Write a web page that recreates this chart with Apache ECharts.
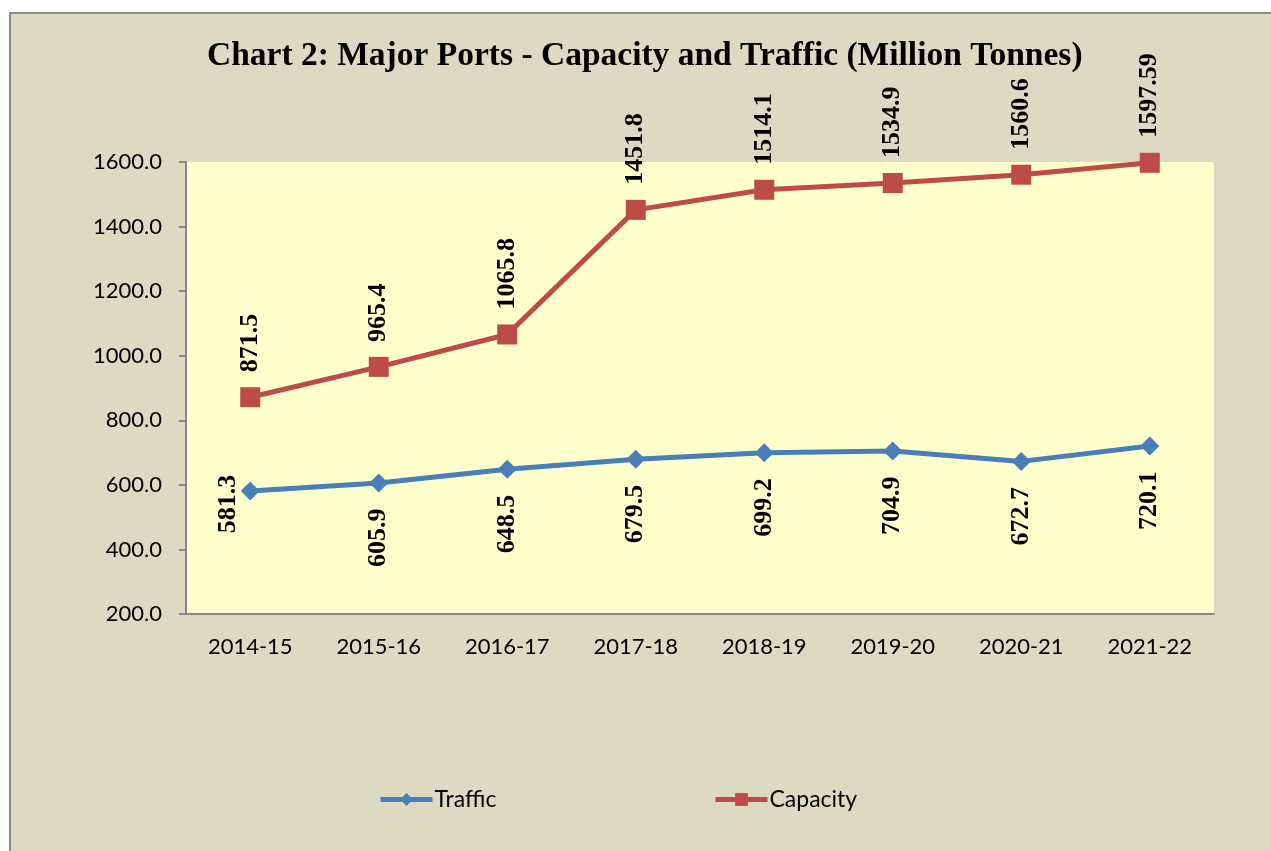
<!DOCTYPE html>
<html>
<head>
<meta charset="utf-8">
<script src="https://cdn.jsdelivr.net/npm/echarts@6/dist/echarts.min.js"></script>
<style>
  html, body { margin: 0; padding: 0; background: #fff; }
  #main { width: 1271px; height: 851px; }
</style>
</head>
<body>
<div id="main"></div>
<script>
// chart data
const years = ['2014-15', '2015-16', '2016-17', '2017-18', '2018-19', '2019-20', '2020-21', '2021-22']
const traffic = [581.3, 605.9, 648.5, 679.5, 699.2, 704.9, 672.7, 720.1]
const capacity = [871.5, 965.4, 1065.8, 1451.8, 1514.1, 1534.9, 1560.6, 1597.59]
const capacityText = ['871.5', '965.4', '1065.8', '1451.8', '1514.1', '1534.9', '1560.6', '1597.59']

const chart = echarts.init(document.getElementById('main'))

const axisFont = 'Lato'
const labelFont = '"Liberation Serif", "Times New Roman", serif'

// traffic labels sit below the point, except the first one which is on the left
let trafficData = traffic.map((v, i) => {
  if (i === 0) {
    return {
      value: v,
      label: { position: 'left', align: 'center', verticalAlign: 'bottom', distance: 4, offset: [-13, 5] }
    }
  }
  return v
})

let options = {
  backgroundColor: '#fff',
  graphic: [{
    type: 'rect',
    z: -10,
    shape: { x: 10, y: 13, width: 1300, height: 900 },
    style: { fill: '#ddd9c3', stroke: '#8c8c8c', lineWidth: 2 }
  }],
  title: {
    text: 'Chart 2: Major Ports - Capacity and Traffic (Million Tonnes)',
    left: 207,
    top: 39,
    padding: 0,
    textStyle: { fontFamily: labelFont, fontWeight: 'bold', fontSize: 33.5, color: '#000' }
  },
  legend: [{
    data: ['Traffic'],
    left: 378,
    top: 788,
    padding: 0,
    itemWidth: 52,
    itemHeight: 16,
    lineStyle: { width: 5 },
    textStyle: { fontFamily: axisFont, fontSize: 23, color: '#000', padding: [0, 0, 0, -3] }
  }, {
    data: ['Capacity'],
    left: 713,
    top: 788,
    padding: 0,
    itemWidth: 52,
    itemHeight: 16,
    lineStyle: { width: 5 },
    textStyle: { fontFamily: axisFont, fontSize: 23, color: '#000', padding: [0, 0, 0, -3] }
  }],
  grid: {
    left: 186,
    right: 57,
    top: 162,
    bottom: 237,
    show: true,
    backgroundColor: '#ffffcc',
    borderWidth: 0
  },
  xAxis: {
    type: 'category',
    data: years,
    boundaryGap: true,
    axisLine: { lineStyle: { color: '#868686', width: 2 } },
    axisTick: { length: 7, lineStyle: { color: '#868686', width: 2 } },
    axisLabel: { fontFamily: axisFont, fontSize: 22, color: '#000', margin: 22 }
  },
  yAxis: {
    type: 'value',
    min: 200,
    max: 1600,
    interval: 200,
    axisLine: { show: true, lineStyle: { color: '#868686', width: 2 } },
    axisTick: { show: true, length: 7, lineStyle: { color: '#868686', width: 2 } },
    splitLine: { show: false },
    axisLabel: {
      fontFamily: axisFont, fontSize: 22, color: '#000', margin: 24,
      formatter: v => v.toFixed(1)
    }
  },
  series: [{
    name: 'Traffic',
    type: 'line',
    data: trafficData,
    symbol: 'diamond',
    symbolSize: 19,
    color: '#4a7ebb',
    lineStyle: { width: 5, color: '#4a7ebb' },
    itemStyle: { color: '#4a7ebb' },
    label: {
      show: true,
      position: 'bottom',
      rotate: 90,
      align: 'right',
      verticalAlign: 'middle',
      distance: 16,
      fontFamily: labelFont,
      fontWeight: 'bold',
      fontSize: 26,
      color: '#000'
    },
    z: 3
  }, {
    name: 'Capacity',
    type: 'line',
    data: capacity,
    symbol: 'rect',
    symbolSize: 20,
    color: '#be4b48',
    lineStyle: { width: 5, color: '#be4b48' },
    itemStyle: { color: '#be4b48' },
    label: {
      show: true,
      position: 'top',
      rotate: 90,
      align: 'left',
      verticalAlign: 'middle',
      distance: 15,
      fontFamily: labelFont,
      fontWeight: 'bold',
      fontSize: 26,
      color: '#000',
      formatter: p => capacityText[p.dataIndex]
    },
    z: 4
  }]
}
chart.setOption(options)
</script>
</body>
</html>
